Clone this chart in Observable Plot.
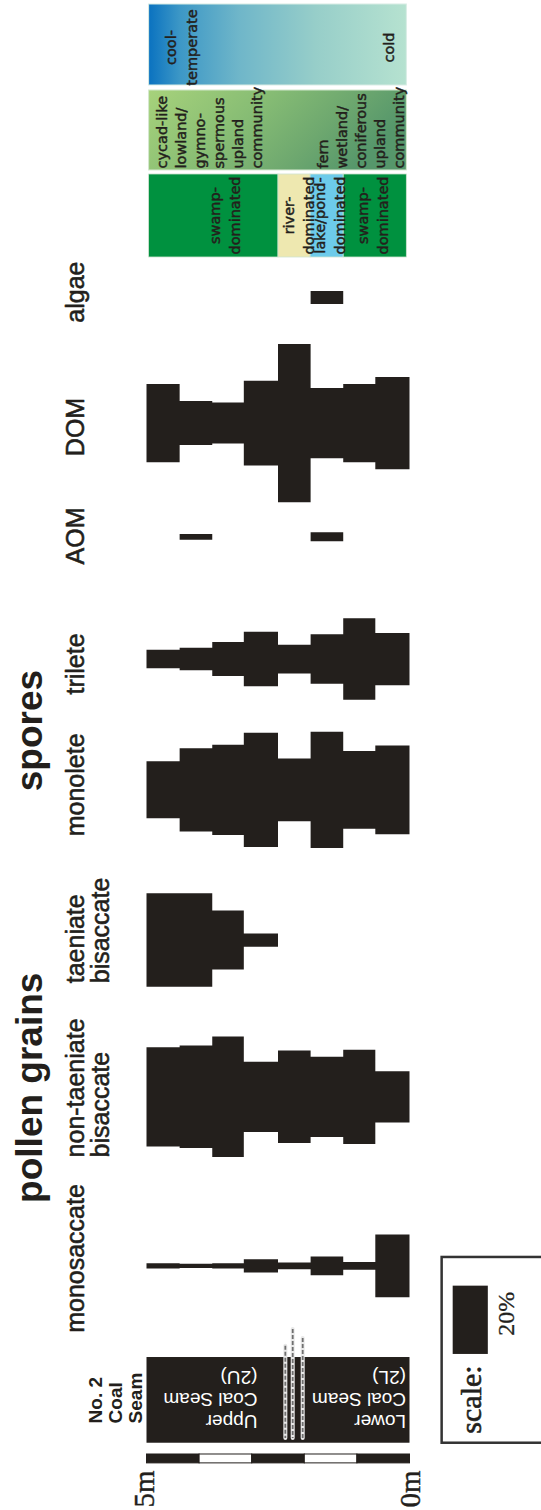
<!DOCTYPE html>
<html>
<head>
<meta charset="utf-8">
<script src="https://cdn.jsdelivr.net/npm/d3@7"></script>
<script src="https://cdn.jsdelivr.net/npm/@observablehq/plot@0.6"></script>
<style>
  html, body { margin: 0; padding: 0; background: #fff; }
  #chart svg { display: block; }
</style>
</head>
<body>
<div id="chart"></div>
<script>
// ---------------- DATA ----------------
// sample intervals (metres above base of No. 2 Coal Seam)
const sampleTop  = [5.00, 4.37, 3.75, 3.15, 2.50, 1.88, 1.26, 0.65];
const sampleBase = [4.37, 3.75, 3.15, 2.50, 1.88, 1.26, 0.65, 0.00];

// relative abundances (%) per sample, top to base
const monosaccate          = [1.5, 1.3, 1.5, 3.9, 2.0, 5.5, 2.3, 18.4];
const nonTaeniateBisaccate = [29.1, 30.0, 35.3, 20.6, 27.1, 23.5, 27.6, 15.0];
const taeniateBisaccate    = [27.4, 27.4, 17.3, 3.9, 0, 0, 0, 0];
const monolete             = [16.7, 24.4, 26.4, 33.5, 18.4, 34.0, 22.8, 26.0];
const trilete              = [5.4, 6.6, 10.0, 16.0, 8.4, 14.5, 23.9, 15.3];
const aom                  = [0, 1.7, 0, 0, 0, 2.6, 0, 0];
const dom                  = [22.9, 12.9, 12.0, 24.8, 46.3, 20.6, 22.9, 27.0];
const algae                = [0, 0, 0, 0, 0, 3.8, 0, 0];

const taxonNames  = ["monosaccate", "non-taeniate\nbisaccate", "taeniate\nbisaccate", "monolete", "trilete", "AOM", "DOM", "algae"];
const taxonValues = [monosaccate, nonTaeniateBisaccate, taeniateBisaccate, monolete, trilete, aom, dom, algae];

// interpretation columns
const environmentNames = ["swamp-\ndominated", "river-\ndominated", "lake/pond-\ndominated", "swamp-\ndominated"];
const environmentFrom  = [5.0, 2.50, 1.89, 1.26];
const environmentTo    = [2.50, 1.89, 1.26, 0.0];
const vegetationNames  = ["cycad-like\nlowland/\ngymno-\nspermous\nupland\ncommunity", "fern\nwetland/\nconiferous\nupland\ncommunity"];
const climateNames     = ["cool-\ntemperate", "cold"];
const seamNames        = ["Upper\nCoal Seam\n(2U)", "Lower\nCoal Seam\n(2L)"];
const scaleTicks       = ["5m", "0m"];
const scaleSegments    = [5, 4, 3, 2, 1, 0];
const legendValue      = 20;

// ---------------- LAYOUT (scale units: x = metres, y = percent units) ----------------
const Y_MAX = 442.2;
const columnCenter = [370.7, 321.2, 275.3, 231.3, 193.0, 157.2, 123.9, 87.1];
const ink = "#231f1c";
const SANS = "'Liberation Sans', Arial, Helvetica, sans-serif";
const DEJA = "'DejaVu Sans', Verdana, sans-serif";
const SERIF = "'Liberation Serif', 'Times New Roman', serif";

// step profiles: one point per sample top plus the base of the last sample
const profile = [];
taxonValues.forEach((vals, t) => {
  vals.forEach((v, i) => profile.push({taxon: t, x: sampleTop[i], y1: columnCenter[t] - v / 2, y2: columnCenter[t] + v / 2}));
  const last = vals[vals.length - 1];
  profile.push({taxon: t, x: sampleBase[vals.length - 1], y1: columnCenter[t] - last / 2, y2: columnCenter[t] + last / 2});
});

const labelMiddle = [0, 3, 4, 5, 6, 7].map(i => ({text: taxonNames[i], y: [368.4, 0, 0, 229.7, 194.3, 156.8, 124.9, 85.4][i]}));
const labelStart = [{text: taxonNames[1], y: 338.8}, {text: taxonNames[2], y: 287.8}];

const envBoxes = environmentNames.map((n, i) => ({
  x1: Math.min(4.96, environmentFrom[i]), x2: Math.max(0.06, environmentTo[i]),
  fill: ["#00913f", "#eee8b0", "#6dcbea", "#00913f"][i]
}));
const envText = environmentNames.map((n, i) => ({text: n, x: [3.874, 2.48, 1.88, 1.06][i]}));

const segs = scaleSegments.slice(0, -1).map((s, i) => ({x1: s, x2: scaleSegments[i + 1], fill: i % 2 ? "#ffffff" : ink}));

const partings = [
  {x: 2.37, y1: 394.1, y2: 421.1},
  {x: 2.23, y1: 389.2, y2: 421.1},
  {x: 2.04, y1: 391.8, y2: 421.1}
];

const defs = () => {
  const d = d3.create("svg:defs");
  const g1 = d.append("linearGradient").attr("id", "climateGrad").attr("x1", 0).attr("x2", 1).attr("y1", 0).attr("y2", 0);
  [[0, "#0a72c0"], [0.12, "#3c97c6"], [0.35, "#6fb6c9"], [0.65, "#97cec9"], [1, "#b6e2d0"]]
    .forEach(([o, c]) => g1.append("stop").attr("offset", o).attr("stop-color", c));
  const g2 = d.append("linearGradient").attr("id", "vegGrad").attr("x1", 0).attr("x2", 1).attr("y1", 0).attr("y2", 0.3);
  [[0, "#a7d27b"], [0.45, "#86bc74"], [0.75, "#6ea86f"], [1, "#56976b"]]
    .forEach(([o, c]) => g2.append("stop").attr("offset", o).attr("stop-color", c));
  return d.node();
};

const interp = {rotate: -90, lineAnchor: "top", fontSize: 14.5, fontFamily: DEJA, fill: ink, stroke: ink, strokeWidth: 0.45};

const chart = Plot.plot({
  width: 541,
  height: 1510,
  margin: 0,
  style: {background: "#fff", overflow: "hidden"},
  x: {domain: [5, 0], range: [146.5, 409.5], axis: null},
  y: {domain: [0, Y_MAX], range: [0, 1510], axis: null},
  marks: [
    defs,
    // climate
    Plot.rect([{x1: 4.96, x2: 0.06, y1: 1.17, y2: 24.89}], {x1: "x1", x2: "x2", y1: "y1", y2: "y2", fill: "url(#climateGrad)", stroke: "#d8ece4", strokeWidth: 1}),
    Plot.text([{text: climateNames[0], x: 4.714}, {text: climateNames[1], x: 0.58}], {...interp, x: "x", y: () => 13.76, text: "text", textAnchor: "middle", lineHeight: 1.4}),
    // vegetation
    Plot.rect([{x1: 4.96, x2: 0.06, y1: 26.35, y2: 49.78}], {x1: "x1", x2: "x2", y1: "y1", y2: "y2", fill: "url(#vegGrad)", stroke: "#d4e8cf", strokeWidth: 1}),
    Plot.text([{text: vegetationNames[0], x: 4.885}, {text: vegetationNames[1], x: 1.82}], {...interp, x: "x", y: () => 49.2, text: "text", textAnchor: "start", lineHeight: 1.32}),
    // environment
    Plot.rect(envBoxes, {x1: "x1", x2: "x2", y1: () => 50.95, y2: () => 75.26, fill: "fill", stroke: "#cfe3d0", strokeWidth: 0.8}),
    Plot.text(envText, {...interp, x: "x", y: () => 62.96, text: "text", textAnchor: "middle", lineHeight: 1.38}),
    // taxon profiles
    Plot.areaY(profile, {x: "x", y1: "y1", y2: "y2", z: "taxon", curve: "step-after", fill: ink}),
    // group titles
    Plot.text([{text: "pollen grains", y: 318.4}, {text: "spores", y: 213.8}], {x: () => 7.5, y: "y", text: "text", rotate: -90, textAnchor: "middle", lineAnchor: "top", fontSize: 37, fontWeight: "bold", fontFamily: SANS, fill: ink}),
    // taxon labels
    Plot.text(labelMiddle, {x: () => 6.527, y: "y", text: "text", rotate: -90, textAnchor: "middle", lineAnchor: "top", lineHeight: 1.0, fontSize: 25, fontFamily: SANS, fill: ink, stroke: ink, strokeWidth: 0.55}),
    Plot.text(labelStart, {x: () => 6.527, y: "y", text: "text", rotate: -90, textAnchor: "start", lineAnchor: "top", lineHeight: 1.0, fontSize: 25, fontFamily: SANS, fill: ink, stroke: ink, strokeWidth: 0.55}),
    // coal seam column
    Plot.rect([{x1: 5, x2: 0, y1: 397.4, y2: 422.5}], {x1: "x1", x2: "x2", y1: "y1", y2: "y2", fill: ink}),
    Plot.ruleX(partings, {x: "x", y1: "y1", y2: "y2", stroke: "#e8e8e8", strokeWidth: 4, strokeLinecap: "round"}),
    Plot.ruleX(partings, {x: "x", y1: "y1", y2: "y2", stroke: "#6f6f6f", strokeWidth: 1.8, strokeDasharray: "4,2"}),
    Plot.text([{text: "No. 2\nCoal\nSeam"}], {x: () => 6.116, y: () => 416.7, text: "text", rotate: -90, textAnchor: "start", lineAnchor: "top", lineHeight: 1.05, fontSize: 19, fontWeight: "bold", fontFamily: SANS, fill: ink}),
    Plot.text([{text: seamNames[0], x: 2.90}, {text: seamNames[1], x: 0.076}], {x: "x", y: () => 418.7, text: "text", rotate: 180, textAnchor: "start", lineAnchor: "top", lineHeight: 1.15, fontSize: 19, fontFamily: SANS, fill: "#fff"}),
    // metre scale bar
    Plot.rect(segs, {x1: "x1", x2: "x2", y1: () => 425.8, y2: () => 428.4, fill: "fill", stroke: ink, strokeWidth: 1}),
    Plot.text([{text: scaleTicks[0], x: 5.267}, {text: scaleTicks[1], x: 0.21}], {x: "x", y: () => 441.3, text: "text", rotate: -90, textAnchor: "start", lineAnchor: "top", fontSize: 29, fontFamily: SERIF, fill: ink, stroke: ink, strokeWidth: 0.4}),
    // percentage scale legend
    Plot.rect([{x1: -0.611, x2: -2.7, y1: 368.1, y2: 422.5}], {x1: "x1", x2: "x2", y1: "y1", y2: "y2", fill: "none", stroke: "#333", strokeWidth: 2.5}),
    Plot.rect([{x1: -0.821, x2: -1.489, v: legendValue}], {x1: "x1", x2: "x2", y1: d => 386.5 - d.v / 2, y2: d => 386.5 + d.v / 2, fill: ink}),
    Plot.text([{text: `${legendValue}%`}], {x: () => -1.66, y: () => 384.6, text: "text", rotate: -90, textAnchor: "middle", lineAnchor: "top", fontSize: 24, fontFamily: SERIF, fill: ink, stroke: ink, strokeWidth: 0.3}),
    Plot.text([{text: "scale:"}], {x: () => -0.954, y: () => 409.7, text: "text", rotate: -90, textAnchor: "middle", lineAnchor: "top", fontSize: 30, fontFamily: SERIF, fill: ink, stroke: ink, strokeWidth: 0.6})
  ]
});
document.getElementById("chart").append(chart);
</script>
</body>
</html>
